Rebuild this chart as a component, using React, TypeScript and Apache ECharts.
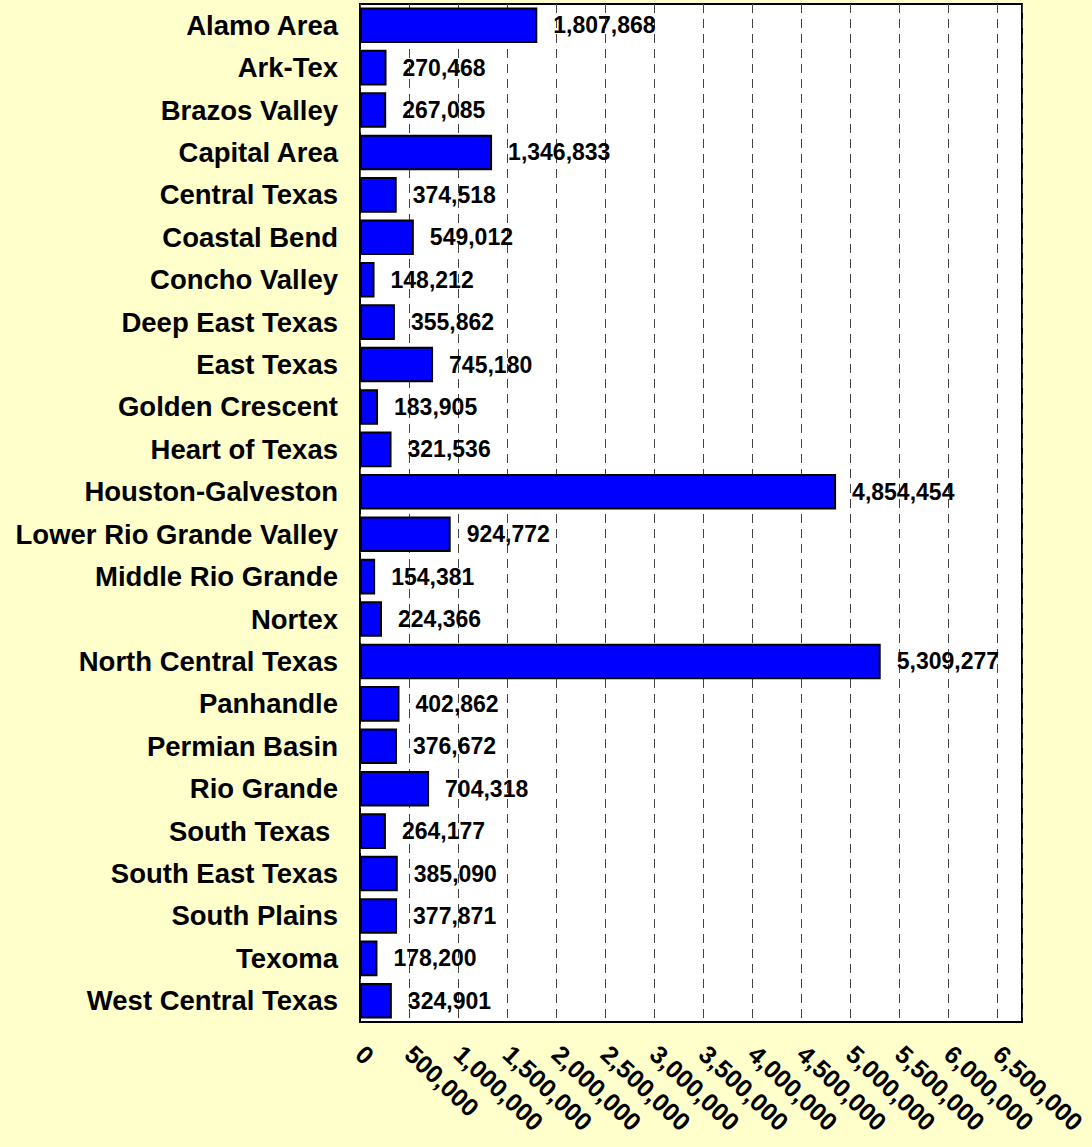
import React, { useEffect, useRef } from "react";
import * as echarts from "echarts";

const categories = [
  "Alamo Area",
  "Ark-Tex",
  "Brazos Valley",
  "Capital Area",
  "Central Texas",
  "Coastal Bend",
  "Concho Valley",
  "Deep East Texas",
  "East Texas",
  "Golden Crescent",
  "Heart of Texas",
  "Houston-Galveston",
  "Lower Rio Grande Valley",
  "Middle Rio Grande",
  "Nortex",
  "North Central Texas",
  "Panhandle",
  "Permian Basin",
  "Rio Grande",
  "South Texas ",
  "South East Texas",
  "South Plains",
  "Texoma",
  "West Central Texas",
];

const populations = [
  1807868, 270468, 267085, 1346833, 374518, 549012, 148212, 355862, 745180,
  183905, 321536, 4854454, 924772, 154381, 224366, 5309277, 402862, 376672,
  704318, 264177, 385090, 377871, 178200, 324901,
];

const fmt = (v: number) => v.toLocaleString("en-US");

export default function App() {
  const ref = useRef<HTMLDivElement>(null);
  useEffect(() => {
    if (!ref.current) return;
    const chart = echarts.init(ref.current, null, { renderer: "svg" });
    chart.setOption({
      animation: false,
      backgroundColor: "#FFFFCC",
      textStyle: { fontFamily: "Liberation Sans, Arial, sans-serif" },
      grid: {
        left: 360,
        right: 70,
        top: 4,
        bottom: 125,
        show: true,
        backgroundColor: "#FFFFFF",
        borderColor: "#000000",
        borderWidth: 2,
        containLabel: false,
        outerBoundsMode: "none",
      },
      xAxis: {
        type: "value",
        min: 0,
        max: 6750000,
        interval: 500000,
        axisLine: { show: false },
        axisTick: { show: false },
        splitLine: {
          show: true,
          lineStyle: { color: "#444444", width: 1, type: [9, 6] },
        },
        axisLabel: {
          rotate: -43,
          margin: 28,
          showMaxLabel: false,
          color: "#000000",
          fontWeight: "bold",
          fontSize: 25,
          fontFamily: "Liberation Sans, Arial, sans-serif",
          formatter: (v: number) => (v > 6500000 ? "" : fmt(v)),
        },
      },
      yAxis: {
        type: "category",
        inverse: true,
        data: categories,
        axisLine: { show: false },
        axisTick: { show: false },
        axisLabel: {
          margin: 22,
          color: "#000000",
          fontWeight: "bold",
          fontSize: 27.5,
          fontFamily: "Liberation Sans, Arial, sans-serif",
        },
      },
      series: [
        {
          type: "bar",
          data: populations,
          barCategoryGap: "16%",
          itemStyle: {
            color: "#0000FF",
            borderColor: "#000000",
            borderWidth: 2,
          },
          label: {
            show: true,
            position: "right",
            distance: 16,
            color: "#000000",
            fontWeight: "bold",
            fontSize: 23,
            fontFamily: "Liberation Sans, Arial, sans-serif",
            formatter: (p: any) => fmt(p.value),
          },
        },
      ],
    });
    return () => chart.dispose();
  }, []);
  return (
    <div
      ref={ref}
      style={{ width: 1092, height: 1147, position: "absolute", left: 0, top: 0 }}
    />
  );
}
